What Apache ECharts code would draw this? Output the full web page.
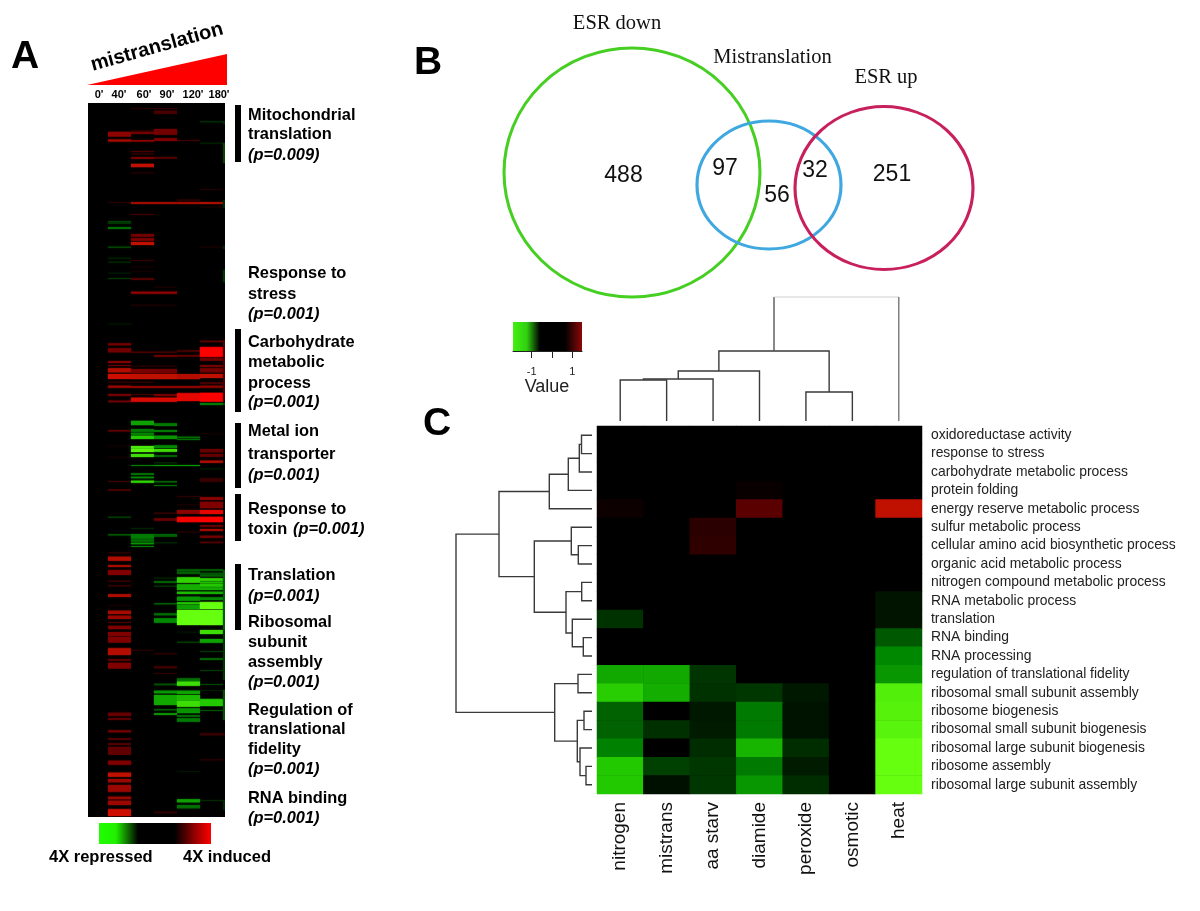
<!DOCTYPE html>
<html><head><meta charset="utf-8">
<style>html,body{margin:0;padding:0;background:#fff}#c{width:1200px;height:911px}</style>
<script src="https://cdn.jsdelivr.net/npm/echarts@6/dist/echarts.min.js"></script>
</head><body><div id="c"></div>
<script>
// ---------- Panel A: bands of the time-course heat map, [first row, row count, log2 ratio]
const timeLabels = ["0'", "40'", "60'", "90'", "120'", "180'"];
const col40 = [[131.7,5,1.1],[139.5,2,1.3],[202,1,.3],[221,1.5,-.5],[223,1,-.4],[227,2,-.8],[246.7,1,-.6],[257.7,1,-.25],[261.7,1,-.3],[272.7,1,-.2],[278,1,-.4],[323,2,-.1],[343.3,2,.9],[348.3,4,.9],[361,2,1],[365,1,.8],[368.3,4,1.4],[374,5,1.6],[381.7,1,.4],[385.7,2,1.2],[394,2,.9],[400.7,1.5,.9],[430,1.5,.7],[445.7,1,.15],[456.7,1,.15],[481,1,.5],[489.3,1.5,.6],[516.7,1,-.5],[534,1.5,-.6],[552.3,1,.4],[556.7,4,1.4],[565,2,1.3],[570,5,1],[580.7,1,.5],[585.3,1,.5],[594.3,2.5,1.4],[605,1,.2],[610.7,3.3,1.3],[615.7,3.3,1.2],[622,1,.6],[625.7,3.6,1],[632,4,1],[636.7,6,1],[648.3,6.7,1.4],[659,2,.7],[662.7,6,1],[712.7,3.3,.8],[718,2,.7],[730.3,2,.9],[738.3,1.5,.7],[743.3,1.5,.7],[746.7,8.3,.75],[760.7,4,1],[772.7,4,1.5],[779,3.3,1.2],[785,6.7,1.2],[796.7,2.5,1.2],[800.7,4.3,1.2],[809.3,6.7,1.6]];
const col60 = [[108,1,.3],[130.7,1,.5],[132,2,.9],[140,1.5,1.1],[151,1,.6],[153.3,1,.4],[157,2,.9],[163.7,3.6,1.5],[172.3,1,.3],[202.3,1.5,1.4],[214,1,.5],[234,2.7,.9],[238.3,2.4,1],[242,3,1.5],[260,1,.4],[266.7,1,.15],[271,1,.15],[278.3,1.5,.7],[291.7,2,1.1],[304.7,1,.25],[351.7,1,.7],[365.7,1,.3],[369,4.3,.95],[374,5.3,1.5],[381.7,1,.4],[386,2,1.1],[394,1,.5],[397.7,4,1.7],[420.7,4.6,-1.2],[429,2.7,-.9],[432.7,2,-1],[435.7,3.3,-1.5],[446,2.7,-1.8],[449,3,-1.9],[454,3,-1.7],[465,1,-.9],[473.3,1.5,-.9],[476.7,1.5,-1],[480.7,2,-1.6],[528,1,-.25],[534,4.7,-.9],[539.3,2.4,-.8],[542.7,1.5,-1.1],[546,1,-.9],[650,1,.3]];
const col90 = [[108,1,.35],[110.7,3.3,.55],[129,5.7,.9],[138.3,2.7,1],[157,1.5,.7],[202.3,1.5,1.4],[286.7,1,.2],[291.7,2,1.1],[304.7,1,.2],[351.7,1,.6],[355,2,.8],[365.7,1,.3],[369,4.3,.9],[374,5.3,1.5],[386,2,1.1],[394,2,.9],[397.7,4,1.7],[423.3,2.7,-.9],[430,2,-.9],[435.7,3.3,-1.1],[445.3,2.7,-1],[449,2.7,-1.7],[455,2,-.7],[462.3,1,-.3],[465,1,-1.1],[481.3,1,-.9],[485,1,-.8],[512.7,1,.5],[518.3,2.4,.8],[534,2.7,-.7],[542.3,1,-.3],[577.7,1,-.25],[581,2,-.7],[585.7,1,-.4],[603.3,1,-.8],[613.3,2,-.8],[618.3,4.4,-1],[653.3,1,.35],[666.3,2,.5],[673,1,.35],[683.7,1.5,-.6],[690.7,2.6,-1.1],[695,10,-1.25],[709.3,1,-.8],[713.3,1.5,-1.2],[811.7,1.5,.4]];
const col120 = [[140,1,.5],[199.3,2,.3],[202.3,1.5,1.4],[350,2,.5],[355,1.5,.8],[374,5.3,1.4],[386,2,1.1],[393.3,7.7,1.8],[436.7,1.5,-.8],[439,1,-.8],[465,1,-1.1],[496,1,.35],[504.3,1,.2],[510,3.7,1.1],[516.7,5.6,1.9],[531.7,1,.3],[569.3,2,-.7],[571.7,2.3,-.7],[577.3,5.4,-1.6],[584.3,5.7,-1.3],[591.7,2.3,-1.4],[596.7,4,-1.1],[602.3,2,-1.5],[605,4.3,-1.2],[610,15,-2],[631.7,1,-.15],[641.7,1,-.5],[678.3,3.4,-.8],[681.7,4,-1.7],[690.7,3.3,-1.2],[695,5.7,-1.4],[701,5.7,-1.7],[708.3,5,-1.1],[715,1.7,-.8],[718.3,3.4,-.9],[771,1,-.15],[799.3,3,-1.2],[805,3.3,-.8]];
const col180 = [[121.3,1,-.35],[142.7,1,-.25],[189,1,.25],[202.3,1.5,1.5],[206.7,1,.2],[246.7,1,.2],[340.7,1.5,.7],[347.3,9.4,2],[358.3,2.4,.9],[365,2,.9],[368.3,4,.9],[374,4,1.5],[382.3,1.5,.6],[385.7,2,1.1],[392.7,9,2],[403,2,-.9],[433.3,1,.15],[449,3.3,.8],[454,2.7,.8],[460.7,2,1.4],[468.3,1,-.2],[478.3,3.4,.45],[497.3,2.5,1.1],[501.7,6.6,1],[510,4,1.8],[516.7,5.6,2],[525,2,.8],[529,2,1.3],[535.7,2,.9],[541.7,1.5,.6],[569.3,1.5,-.7],[572.7,2.3,-.6],[575,1.5,-.7],[578.3,2.5,-1.6],[581.5,2,-1.4],[584,2.7,-1.5],[587.3,2.7,-1.3],[591.7,2.3,-1.3],[597.3,2.7,-1],[602.3,6.7,-2],[610,15,-2],[630,4,-1.7],[639,3.7,-1.2],[651,1,-.4],[658.3,1.5,-.8],[670,1,-.4],[684,1,-.5],[690,1,-.2],[699.3,6.7,-1.5],[710,1,-.6],[733.3,2,.45],[759.3,1,.35],[800,1,-.3]];
const colEdge = [[121,3,-.3],[143,20,-.5],[200,8,-.3],[246,3,-.3],[270,12,-.4],[340,60,.6],[403,2,-.5],[570,60,-.7],[630,50,-.4],[690,30,-.6],[733,3,.3],[800,10,-.3]];
const sideLabels = [["Mitochondrial","b"],["translation","b"],["(p=0.009)","i"],["Response to","b"],["stress","b"],["(p=0.001)","i"],["Carbohydrate","b"],["metabolic","b"],["process","b"],["(p=0.001)","i"],["Metal ion","b"],["transporter","b"],["(p=0.001)","i"],["Response to","b"],["toxin","b"],["(p=0.001)","i"],["Translation","b"],["(p=0.001)","i"],["Ribosomal","b"],["subunit","b"],["assembly","b"],["(p=0.001)","i"],["Regulation of","b"],["translational","b"],["fidelity","b"],["(p=0.001)","i"],["RNA binding","b"],["(p=0.001)","i"]];

// ---------- Panel B: Venn diagram
const vennNames = ["ESR down", "Mistranslation", "ESR up"];
const vennCounts = [488, 97, 56, 32, 251];

// ---------- Panel C: term x condition heat map
const conditions = ["nitrogen","mistrans","aa starv","diamide","peroxide","osmotic","heat"];
const terms = ["oxidoreductase activity","response to stress","carbohydrate metabolic process","protein folding","energy reserve metabolic process","sulfur metabolic process","cellular amino acid biosynthetic process","organic acid metabolic process","nitrogen compound metabolic process","RNA metabolic process","translation","RNA binding","RNA processing","regulation of translational fidelity","ribosomal small subunit assembly","ribosome biogenesis","ribosomal small subunit biogenesis","ribosomal large subunit biogenesis","ribosome assembly","ribosomal large subunit assembly"];
const termValues = [
 [0,0,0,0,0,0,0],[0,0,0,0,0,0,0],[0,0,0,0,0,0,0],
 [0,0,0,.06,0,0,0],
 [.1,0,0,.7,0,0,1.5],
 [0,0,.33,0,0,0,0],
 [0,0,.37,0,0,0,0],
 [0,0,0,0,0,0,0],[0,0,0,0,0,0,0],
 [0,0,0,0,0,0,-.15],
 [-.37,0,0,0,0,0,-.15],
 [0,0,0,0,0,0,-.65],
 [0,0,0,0,0,0,-1],
 [-1.25,-1.25,-.38,0,0,0,-1.12],
 [-1.55,-1.3,-.37,-.4,-.17,0,-1.85],
 [-.72,0,-.18,-.9,-.14,0,-1.88],
 [-.72,-.35,-.2,-.9,-.14,0,-1.9],
 [-.95,0,-.33,-1.35,-.33,0,-2],
 [-1.5,-.47,-.4,-.9,-.2,0,-2],
 [-1.5,-.12,-.4,-1.12,-.33,0,-2]
];
// dendrograms: [child a, child b, merge height]; ids >= leaf count refer to earlier merges
const colMerges = [[0,1,41],[7,2,42],[8,3,50],[4,5,29],[9,10,70],[11,6,124]];
const rowMerges = [[0,1,10.5],[20,2,12.7],[21,3,23.7],[22,4,42.7],[6,7,13.7],[5,24,20.7],[8,9,10.3],[11,12,8.7],[10,27,19.7],[26,28,26],[25,29,57.7],[23,30,93],[13,14,14],[15,16,8],[18,19,6],[17,34,12],[33,35,14.7],[32,36,37.3],[31,37,136]];
const legendTicks = [-1, 0, 1];

// ---------- shared colour scale
const SANS = '"Liberation Sans", Arial, sans-serif', SERIF = '"Liberation Serif", serif';
const scaleColors = ['#66ff10','#22c800','#008800','#004400','#000000','#400000','#800000','#c01000','#ff0000'];

function flatten(list){ const out=[]; list.forEach((b,c)=>b.forEach(r=>out.push([c+1,r[0],r[0]+r[1],r[2]]))); return out; }
const bands = flatten([col40,col60,col90,col120,col180,colEdge]);
const cells = []; termValues.forEach((r,y)=>r.forEach((v,x)=>cells.push([x,y,v])));

function mergeSegments(m, n){
  const pos=[], h=[]; for(let i=0;i<n;i++){pos[i]=i;h[i]=0;}
  return m.map((e,i)=>{ const [a,b,t]=e; const id=n+i; pos[id]=(pos[a]+pos[b])/2; h[id]=t; return [pos[a],h[a],pos[b],h[b],t,i===m.length-1?1:0]; });
}
function dendroRender(horizontal){
  return function(p,api){
    const P=(leaf,ht)=>horizontal?api.coord([ht,leaf]):api.coord([leaf,ht]);
    const a=api.value(0),ah=api.value(1),b=api.value(2),bh=api.value(3),t=api.value(4),top=api.value(5);
    const base={stroke:'#3a3a3a',lineWidth:1.4,fill:null};
    if(top && !horizontal){
      return {type:'group',children:[
        {type:'polyline',shape:{points:[P(a,ah),P(a,t)]},style:{stroke:'#555',lineWidth:1.4,fill:null}},
        {type:'polyline',shape:{points:[P(a,t),P(b,t)]},style:{stroke:'#cfcfcf',lineWidth:1,fill:null}},
        {type:'polyline',shape:{points:[P(b,t),P(b,bh)]},style:{stroke:'#777',lineWidth:1.4,fill:null}}]};
    }
    return {type:'polyline',shape:{points:[P(a,ah),P(a,t),P(b,t),P(b,bh)]},style:base};
  };
}

// ---------- layout (pixels of the page), separate from the values
const sideY = [115,134,155,273,294,314,342,362,383,402,431,454,475,509,529,529,575,596,622,642,662,682,710,729,749,769,798,818];
const sideX = {15:293};
const timeX = [99,119,144,167,193,219];
const bars = [[105,57],[329,83],[423,65],[494,47],[564,66]];
const vennCircles = [[632,172.5,256,249,'#46cf22'],[769,185,144,128,'#3fa8e0'],[884,188,178,163,'#c7205c']];
const vennNamePos = [[617,24,20.5],[772.5,58,20.5],[886,78,20.5]];
const vennCountPos = [[623.5,176],[725,169],[777,196],[815,171],[892,175]];
const txt=(text,x,y,o)=>({type:'text',x,y,silent:true,style:Object.assign({text,fill:'#000',align:'left',verticalAlign:'middle',font:'bold 16.4px '+SANS},o||{})});

const graphic = [
  txt('A',25,57,{font:'bold 39px '+SANS,align:'center'}),
  txt('B',428,63,{font:'bold 39px '+SANS,align:'center'}),
  txt('C',437,424,{font:'bold 39px '+SANS,align:'center'}),
  {type:'text',x:157,y:47,rotation:0.272,silent:true,style:{text:'mistranslation',align:'center',verticalAlign:'middle',font:'bold 20px '+SANS,fill:'#000'}},
  {type:'polygon',silent:true,shape:{points:[[87,85],[227,54],[227,85]]},style:{fill:'#ff0000'}},
  {type:'rect',silent:true,shape:{x:99,y:823,width:112,height:21},style:{fill:new echarts.graphic.LinearGradient(0,0,1,0,[{offset:0,color:'#20ff00'},{offset:.15,color:'#20f000'},{offset:.35,color:'#000'},{offset:.675,color:'#000'},{offset:.85,color:'#900000'},{offset:1,color:'#ff0000'}])}},
  txt('4X repressed',49,857,{font:'bold 16.5px '+SANS}),
  txt('4X induced',183,857,{font:'bold 16.5px '+SANS}),
  txt('Value',547,387,{font:'18px '+SANS,align:'center',fill:'#222'})
];
timeLabels.forEach((t,i)=>graphic.push(txt(t,timeX[i],95,{font:'bold 11px '+SANS,align:'center'})));
bars.forEach(b=>graphic.push({type:'rect',silent:true,shape:{x:235,y:b[0],width:6,height:b[1]},style:{fill:'#000'}}));
sideLabels.forEach((s,i)=>graphic.push(txt(s[0],sideX[i]||248,sideY[i],{font:(s[1]==='i'?'italic ':'')+'bold 16.4px '+SANS})));
vennNames.forEach((n,i)=>graphic.push(txt(n,vennNamePos[i][0],vennNamePos[i][1],{font:vennNamePos[i][2]+'px '+SERIF,align:'center',fill:'#111'})));

const hidden=(extra)=>Object.assign({type:'value',show:false,scale:false,splitLine:{show:false}},extra);
const option = {
  animation:false, backgroundColor:'#fff', graphic:{elements:graphic},
  grid:[
    {left:88,top:103,width:137,height:714,show:true,backgroundColor:'#000',borderWidth:0},
    {left:597,top:426,width:325,height:368,show:true,backgroundColor:'#000',borderWidth:0},
    {left:597,top:297,width:325,height:124},
    {left:456,top:426,width:136,height:368},
    {left:513,top:322,width:69,height:29},
    {left:0,top:0,width:1200,height:911}
  ],
  xAxis:[
    hidden({gridIndex:0,min:0.13,max:6.087}),
    {type:'category',gridIndex:1,data:conditions,position:'bottom',axisLine:{show:false},axisTick:{show:false},splitLine:{show:false},
      axisLabel:{rotate:90,margin:8,fontSize:19,fontFamily:SANS,color:'#111',interval:0,padding:[0,0,0,0]}},
    hidden({gridIndex:2,min:-.5,max:6.5}),
    hidden({gridIndex:3,min:0,max:136,inverse:true}),
    {type:'value',gridIndex:4,min:-1.92,max:1.48,position:'bottom',splitLine:{show:false},
      axisLine:{show:true,lineStyle:{color:'#222',width:1}},
      axisTick:{show:true,length:7,customValues:legendTicks,lineStyle:{color:'#222'}},
      axisLabel:{show:true,margin:15,fontSize:11,fontFamily:SANS,color:'#222',customValues:legendTicks,formatter:v=>v===0?'':String(v)}},
    hidden({gridIndex:5,min:0,max:1200})
  ],
  yAxis:[
    hidden({gridIndex:0,min:103,max:817,inverse:true}),
    {type:'category',gridIndex:1,data:terms,inverse:true,position:'right',axisLine:{show:false},axisTick:{show:false},splitLine:{show:false},
      axisLabel:{margin:9,fontSize:13.9,fontFamily:SANS,color:'#222',interval:0,padding:[2,0,0,0]}},
    hidden({gridIndex:2,min:0,max:124}),
    hidden({gridIndex:3,min:-.5,max:19.5,inverse:true}),
    hidden({gridIndex:4,min:0,max:1}),
    hidden({gridIndex:5,min:0,max:911,inverse:true})
  ],
  visualMap:[
    {show:false,seriesIndex:0,dimension:3,min:-2,max:2,inRange:{color:scaleColors}},
    {show:false,seriesIndex:1,dimension:2,min:-2,max:2,inRange:{color:scaleColors}}
  ],
  series:[
    {type:'custom',xAxisIndex:0,yAxisIndex:0,clip:true,silent:true,data:bands,encode:{x:[0],y:[1,2]},
     renderItem:(p,api)=>{
       const c=api.value(0),s=api.value(1),e=api.value(2),col=api.visual('color');
       const a=api.coord([c,s]),b=api.coord([c+1,e]);
       return {type:'rect',shape:{x:a[0],y:a[1],width:b[0]-a[0],height:b[1]-a[1]},style:{fill:col,shadowBlur:1.5,shadowColor:col}};
     }},
    {type:'heatmap',xAxisIndex:1,yAxisIndex:1,data:cells,silent:true,progressive:0,emphasis:{disabled:true}},
    {type:'custom',xAxisIndex:2,yAxisIndex:2,silent:true,clip:false,data:mergeSegments(colMerges,conditions.length),renderItem:dendroRender(false),encode:{x:[0,2],y:[1,3,4]}},
    {type:'custom',xAxisIndex:3,yAxisIndex:3,silent:true,clip:false,data:mergeSegments(rowMerges,terms.length),renderItem:dendroRender(true),encode:{y:[0,2],x:[1,3,4]}},
    {type:'custom',xAxisIndex:4,yAxisIndex:4,silent:true,data:[[-1.92,1.48]],encode:{x:[0,1]},
     renderItem:(p,api)=>{
       const a=api.coord([api.value(0),1]),b=api.coord([api.value(1),0]);
       return {type:'rect',shape:{x:a[0],y:a[1],width:b[0]-a[0],height:b[1]-a[1]},
         style:{fill:new echarts.graphic.LinearGradient(0,0,1,0,[{offset:0,color:'#44f010'},{offset:.2,color:'#30d010'},{offset:.39,color:'#000'},{offset:.75,color:'#000'},{offset:1,color:'#8c0808'}])}};
     }},
    {type:'scatter',xAxisIndex:5,yAxisIndex:5,silent:true,z:5,
     data:vennCircles.map(v=>({value:[v[0],v[1],v[2],v[3]],itemStyle:{color:'rgba(0,0,0,0)',borderColor:v[4],borderWidth:3,opacity:1}})),
     symbol:'circle',symbolSize:v=>[v[2],v[3]]},
    {type:'scatter',xAxisIndex:5,yAxisIndex:5,silent:true,z:6,symbolSize:0,itemStyle:{opacity:1},
     data:vennCounts.map((n,i)=>({value:[vennCountPos[i][0],vennCountPos[i][1]],name:String(n)})),
     label:{show:true,position:'inside',formatter:'{b}',fontSize:23,fontFamily:SANS,color:'#111'}}
  ]
};
echarts.init(document.getElementById('c'),null,{renderer:'canvas'}).setOption(option);
</script></body></html>
